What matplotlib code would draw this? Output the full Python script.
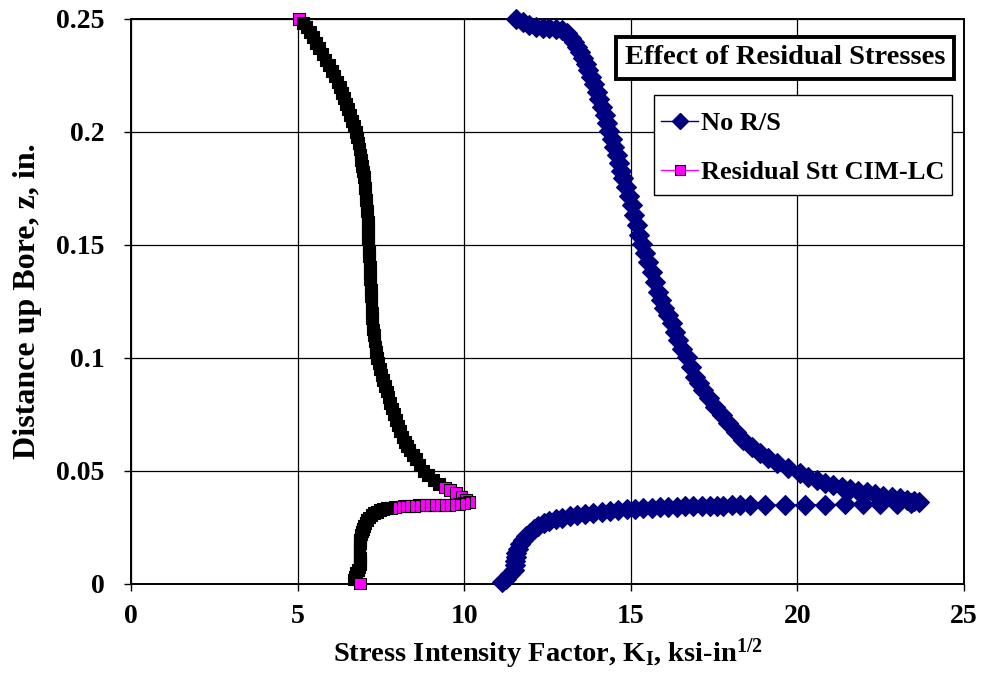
import matplotlib
matplotlib.use("Agg")
import matplotlib.pyplot as plt
from matplotlib.lines import Line2D
from matplotlib.patches import Rectangle
import numpy as np

plt.rcParams['font.family'] = ['Liberation Serif', 'DejaVu Serif']
plt.rcParams['font.weight'] = 'bold'
plt.rcParams['mathtext.fontset'] = 'custom'
plt.rcParams['mathtext.rm'] = 'Liberation Serif:bold'
plt.rcParams['mathtext.it'] = 'Liberation Serif:bold'
plt.rcParams['mathtext.bf'] = 'Liberation Serif:bold'

# ---------------- data ----------------
x_ticks = [0, 5, 10, 15, 20, 25]
x_tick_labels = ["0", "5", "10", "15", "20", "25"]
y_ticks = [0, 0.05, 0.1, 0.15, 0.2, 0.25]
y_tick_labels = ["0", "0.05", "0.1", "0.15", "0.2", "0.25"]

series_names = ["No R/S", "Residual Stt CIM-LC"]

# No R/S : K (ksi-in^1/2)
no_rs_k = [
    11.55, 11.75, 11.95, 12.15, 12.35, 12.55, 12.75, 12.93, 13.08, 13.20,
    13.30, 13.40, 13.48, 13.57, 13.65, 13.73, 13.82, 13.90, 13.98, 14.06,
    14.15, 14.23, 14.30, 14.36, 14.44, 14.51, 14.58, 14.65, 14.71, 14.78,
    14.86, 14.95, 15.03, 15.10, 15.18, 15.25, 15.33, 15.43, 15.53, 15.63,
    15.73, 15.82, 15.91, 16.01, 16.12, 16.23, 16.33, 16.43, 16.55, 16.68,
    16.80, 16.93, 17.05, 17.18, 17.35, 17.53, 17.73, 17.93, 18.15, 18.38,
    18.63, 18.88, 19.13, 19.38, 19.73, 20.08, 20.33, 20.58, 20.83, 21.08,
    21.33, 21.58, 21.83, 22.08, 22.33, 22.58, 22.83, 23.08, 23.30, 23.50,
    23.65,
    23.40, 22.98, 22.48, 21.98, 21.43, 20.83, 20.23, 19.63, 19.03, 18.58,
    18.28, 18.03, 17.78, 17.58, 17.38, 17.13, 16.88, 16.63, 16.38, 16.13,
    15.88, 15.63, 15.38, 15.13, 14.88, 14.63, 14.38, 14.13, 13.88, 13.63,
    13.40, 13.18, 12.95, 12.75, 12.55, 12.38, 12.22, 12.08, 11.96, 11.85,
    11.75, 11.67, 11.60, 11.56, 11.54, 11.53, 11.52, 11.50, 11.38, 11.25,
    11.13]
# No R/S : z (in.)
no_rs_z = [
    0.2500, 0.2486, 0.2472, 0.2464, 0.2462, 0.2461, 0.2457, 0.2450, 0.2436, 0.2417,
    0.2398, 0.2378, 0.2355, 0.2327, 0.2300, 0.2274, 0.2242, 0.2210, 0.2178, 0.2144,
    0.2110, 0.2075, 0.2040, 0.2004, 0.1968, 0.1933, 0.1898, 0.1863, 0.1829, 0.1794,
    0.1755, 0.1715, 0.1676, 0.1632, 0.1588, 0.1545, 0.1502, 0.1464, 0.1425, 0.1381,
    0.1337, 0.1293, 0.1257, 0.1222, 0.1187, 0.1152, 0.1115, 0.1078, 0.1040, 0.1002,
    0.0959, 0.0916, 0.0887, 0.0857, 0.0820, 0.0783, 0.0746, 0.0709, 0.0672, 0.0636,
    0.0606, 0.0577, 0.0554, 0.0532, 0.0510, 0.0488, 0.0473, 0.0458, 0.0447, 0.0436,
    0.0427, 0.0418, 0.0411, 0.0404, 0.0396, 0.0389, 0.0383, 0.0377, 0.0371, 0.0366,
    0.0362,
    0.0357, 0.0354, 0.0352, 0.0351, 0.0350, 0.0349, 0.0348, 0.0348, 0.0347, 0.0347,
    0.0346, 0.0346, 0.0345, 0.0345, 0.0344, 0.0344, 0.0343, 0.0342, 0.0341, 0.0339,
    0.0337, 0.0335, 0.0333, 0.0331, 0.0328, 0.0325, 0.0321, 0.0317, 0.0313, 0.0309,
    0.0304, 0.0298, 0.0291, 0.0284, 0.0276, 0.0266, 0.0254, 0.0240, 0.0225, 0.0209,
    0.0192, 0.0174, 0.0155, 0.0136, 0.0117, 0.0098, 0.0080, 0.0062, 0.0040, 0.0022,
    0.0008]

# Residual Stt CIM-LC : K (ksi-in^1/2)
rs_k = [
    5.05, 5.16, 5.27, 5.38, 5.47, 5.56, 5.65, 5.75, 5.84, 5.94,
    6.03, 6.11, 6.20, 6.27, 6.34, 6.40, 6.46, 6.52, 6.58, 6.64,
    6.70, 6.75, 6.79, 6.83, 6.86, 6.89, 6.91, 6.94, 6.97, 6.99,
    7.01, 7.03, 7.04, 7.06, 7.07, 7.09, 7.10, 7.11, 7.11, 7.12,
    7.12, 7.13, 7.14, 7.15, 7.16, 7.17, 7.17, 7.18, 7.19, 7.20,
    7.21, 7.22, 7.22, 7.23, 7.24, 7.25, 7.27, 7.29, 7.31, 7.34,
    7.36, 7.39, 7.43, 7.48, 7.52, 7.57, 7.62, 7.68, 7.73, 7.78,
    7.83, 7.89, 7.95, 8.01, 8.08, 8.15, 8.23, 8.28, 8.36, 8.46,
    8.56, 8.66, 8.78, 8.92, 9.08, 9.25, 9.42, 9.58, 9.75, 9.92,
    10.05, 10.15,
    10.00, 9.85, 9.70, 9.55, 9.40, 9.25, 9.10, 8.95, 8.80, 8.65,
    8.50, 8.35, 8.20, 8.06, 7.93, 7.80, 7.68, 7.57, 7.47, 7.38,
    7.30, 7.22, 7.15, 7.09, 7.04, 6.99, 6.96, 6.93, 6.91, 6.89,
    6.88, 6.87, 6.86, 6.86, 6.86, 6.86, 6.87, 6.87, 6.87, 6.86,
    6.82, 6.76, 6.71, 6.70, 6.88]
# Residual Stt CIM-LC : z (in.)
rs_z = [
    0.2500, 0.2482, 0.2463, 0.2444, 0.2420, 0.2395, 0.2370, 0.2345, 0.2320, 0.2296,
    0.2271, 0.2247, 0.2222, 0.2198, 0.2173, 0.2149, 0.2124, 0.2100, 0.2075, 0.2050,
    0.2025, 0.2000, 0.1975, 0.1950, 0.1925, 0.1900, 0.1875, 0.1850, 0.1825, 0.1800,
    0.1775, 0.1750, 0.1725, 0.1700, 0.1675, 0.1650, 0.1625, 0.1600, 0.1575, 0.1550,
    0.1525, 0.1500, 0.1475, 0.1450, 0.1425, 0.1400, 0.1375, 0.1350, 0.1325, 0.1300,
    0.1275, 0.1250, 0.1225, 0.1200, 0.1175, 0.1150, 0.1125, 0.1100, 0.1075, 0.1050,
    0.1025, 0.1000, 0.0975, 0.0950, 0.0925, 0.0900, 0.0875, 0.0850, 0.0825, 0.0800,
    0.0775, 0.0750, 0.0725, 0.0700, 0.0675, 0.0650, 0.0625, 0.0610, 0.0590, 0.0570,
    0.0550, 0.0525, 0.0500, 0.0480, 0.0458, 0.0440, 0.0425, 0.0414, 0.0400, 0.0385,
    0.0372, 0.0362,
    0.0355, 0.0352, 0.0350, 0.0349, 0.0349, 0.0348, 0.0348, 0.0347, 0.0347, 0.0346,
    0.0345, 0.0344, 0.0343, 0.0341, 0.0339, 0.0336, 0.0333, 0.0329, 0.0324, 0.0318,
    0.0311, 0.0302, 0.0292, 0.0281, 0.0269, 0.0256, 0.0243, 0.0230, 0.0217, 0.0204,
    0.0191, 0.0178, 0.0165, 0.0152, 0.0139, 0.0126, 0.0113, 0.0100, 0.0087, 0.0074,
    0.0060, 0.0045, 0.0030, 0.0018, 0.0000]

title_text = "Effect of Residual Stresses"
x_label = r"Stress Intensity Factor, K$_{\mathrm{I}}$, ksi-in$^{\mathrm{1/2}}$"
y_label = "Distance up Bore, z, in."

# ---------------- figure ----------------
W, H = 991, 687
fig = plt.figure(figsize=(W / 100, H / 100), dpi=100)
ax = fig.add_axes([131 / W, 1 - 583.5 / H, (964 - 131) / W, (583.5 - 19) / H])

navy = "#000080"
magenta = "#FF00FF"

ax.set_xlim(0, 25)
ax.set_ylim(0, 0.25)
ax.set_xticks(x_ticks)
ax.set_xticklabels(x_tick_labels)
ax.set_yticks(y_ticks)
ax.set_yticklabels(y_tick_labels)
ax.grid(True, color="black", linewidth=0.9, zorder=0)
ax.set_axisbelow(True)
for s in ax.spines.values():
    s.set_linewidth(1.4)
    s.set_color("black")
ax.tick_params(direction="out", length=5, width=1.0, colors="black",
               labelsize=20)
for lab in ax.get_xticklabels() + ax.get_yticklabels():
    lab.set_fontweight("bold")
ax.tick_params(axis="x", pad=10)
ax.tick_params(axis="y", pad=14)

# No R/S series
ax.plot(no_rs_k, no_rs_z, color=navy, lw=1.0, marker="D", markersize=10.5,
        markerfacecolor=navy, markeredgecolor=navy, markeredgewidth=0.8,
        zorder=3, clip_on=False)

# Residual series: thin magenta line + squares
rk = np.array(rs_k)
rz = np.array(rs_z)
ax.plot(rk, rz, color=magenta, lw=1.0, zorder=3)
tip = int(np.argmax(rk))
idx = np.arange(len(rk))
# where markers are packed tightly only their black edges show
visible_face = ((idx <= tip) & (rk > 9.3)) | ((idx > tip) & (rk > 7.7))
visible_face[0] = True
visible_face[-1] = True
faces = [magenta if v else "black" for v in visible_face]
ax.scatter(rk, rz, marker="s", s=8.5 ** 2, c=faces, edgecolors="black",
           linewidths=0.8, zorder=4, clip_on=False)

# axis labels
ax.set_xlabel(x_label, fontsize=20.5, fontweight="bold", labelpad=5)
ax.set_ylabel(y_label, fontsize=23, fontweight="bold", labelpad=10)

# title box
ax.text(0.785, 0.931, title_text, transform=ax.transAxes, ha="center",
        va="center", fontsize=20.5, fontweight="bold", zorder=6,
        bbox=dict(boxstyle="square,pad=0.3", facecolor="white",
                  edgecolor="black", linewidth=2.8))

# legend: frame drawn as a box, entries centred inside it
bx0, bx1 = (654 - 131) / 833, (952 - 131) / 833
by1, by0 = (583.5 - 95) / 564.5, (583.5 - 195) / 564.5
ax.add_patch(Rectangle((bx0, by0), bx1 - bx0, by1 - by0, transform=ax.transAxes,
                       facecolor="white", edgecolor="black", linewidth=1.0,
                       zorder=5.8))
handles = [
    Line2D([0], [0], color=navy, lw=1.0, marker="D", markersize=8,
           markerfacecolor=navy, markeredgecolor=navy),
    Line2D([0], [0], color=magenta, lw=1.0, marker="s", markersize=6.5,
           markerfacecolor=magenta, markeredgecolor="black",
           markeredgewidth=0.8),
]
leg = ax.legend(handles, series_names, loc="center",
                bbox_to_anchor=((bx0 + bx1) / 2, (by0 + by1) / 2 - 3 / 564.5),
                borderaxespad=0, frameon=False,
                prop={"weight": "bold", "size": 19},
                handlelength=1.4, handletextpad=0.12, labelspacing=0.95,
                borderpad=0.0)
leg.set_zorder(6)

fig.savefig("out.png", dpi=100)
